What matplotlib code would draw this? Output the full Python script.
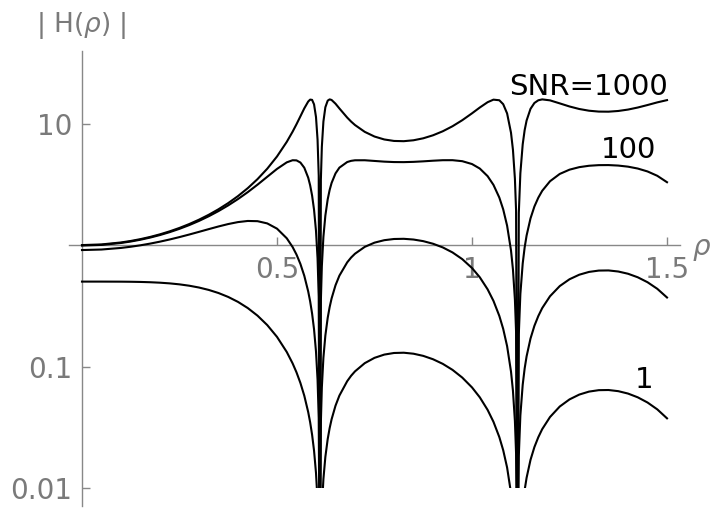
import matplotlib
matplotlib.use("Agg")
import matplotlib.pyplot as plt
from matplotlib.patches import Rectangle
from matplotlib.ticker import FixedLocator, NullLocator, FixedFormatter

# ---- data ----
rho = [0.00, 0.05, 0.10, 0.125, 0.15, 0.175, 0.20, 0.225, 0.25, 0.275,
       0.30, 0.325, 0.35, 0.375, 0.40, 0.425, 0.45, 0.475, 0.50, 0.525,
       0.54, 0.55, 0.56, 0.57, 0.58, 0.585, 0.59, 0.595, 0.60, 0.604,
       0.607, 0.6098, 0.6125, 0.615, 0.619, 0.624, 0.63, 0.635, 0.64, 0.65,
       0.66, 0.68, 0.69, 0.70, 0.725, 0.75, 0.775, 0.80, 0.825, 0.85,
       0.875, 0.90, 0.925, 0.95, 0.975, 1.00, 1.02, 1.04, 1.055, 1.07,
       1.08, 1.09, 1.10, 1.105, 1.11, 1.113, 1.1166, 1.12, 1.124, 1.13,
       1.135, 1.14, 1.15, 1.16, 1.17, 1.18, 1.20, 1.225, 1.25, 1.275,
       1.30, 1.325, 1.35, 1.375, 1.40, 1.425, 1.45, 1.475, 1.50]

h_snr1 = [0.5, 0.49996, 0.49938, 0.49848, 0.49682, 0.49404, 0.48974, 0.48342, 0.47454, 0.46254,
          0.44687, 0.42704, 0.40273, 0.37379, 0.34039, 0.30299, 0.26231, 0.21938, 0.17543, 0.13177,
          0.10619, 0.08953, 0.07327, 0.05747, 0.04217, 0.03474, 0.02745, 0.02030, 0.01331, 0.00782,
          0.00377, 0.001, 0.00350, 0.00673, 0.01183, 0.01804, 0.02528, 0.03112, 0.03679, 0.04758,
          0.05766, 0.07576, 0.08390, 0.09123, 0.10657, 0.11788, 0.12535, 0.12925, 0.12989, 0.12748,
          0.12235, 0.11481, 0.10522, 0.09387, 0.08111, 0.06731, 0.05577, 0.04396, 0.03509, 0.02628,
          0.02047, 0.01474, 0.00909, 0.00631, 0.00356, 0.00193, 0.001, 0.00184, 0.00396, 0.00708,
          0.00965, 0.01216, 0.01705, 0.02173, 0.02619, 0.03052, 0.03839, 0.04686, 0.05363, 0.05876,
          0.06217, 0.06389, 0.06407, 0.06269, 0.05990, 0.05578, 0.05056, 0.04441, 0.03746]

h_snr10 = [0.90909, 0.91831, 0.94646, 0.96808, 0.99504, 1.02767, 1.06626, 1.11113, 1.16244, 1.22011,
           1.28362, 1.35166, 1.42153, 1.48847, 1.54458, 1.57779, 1.57167, 1.50645, 1.36408, 1.13684,
           0.96307, 0.83460, 0.69878, 0.55804, 0.41509, 0.34364, 0.27264, 0.20227, 0.13286, 0.07815,
           0.03769, 0.001, 0.03496, 0.06734, 0.11814, 0.17991, 0.25139, 0.30851, 0.36347, 0.46630,
           0.55977, 0.72019, 0.78869, 0.84821, 0.96583, 1.04606, 1.09599, 1.12107, 1.12510, 1.10975,
           1.07627, 1.02484, 0.95588, 0.86914, 0.76548, 0.64663, 0.54243, 0.43212, 0.34708, 0.26119,
           0.20392, 0.14708, 0.09082, 0.06307, 0.03560, 0.01927, 0.001, 0.01837, 0.03955, 0.07080,
           0.09641, 0.12142, 0.17001, 0.21638, 0.26027, 0.30268, 0.37890, 0.45946, 0.52277, 0.56978,
           0.60070, 0.61618, 0.61782, 0.60540, 0.58023, 0.54260, 0.49420, 0.43635, 0.36990]

h_snr100 = [0.99010, 1.00217, 1.03953, 1.06876, 1.10595, 1.15211, 1.20853, 1.27694, 1.35952, 1.45908,
            1.57935, 1.72518, 1.90292, 2.12093, 2.39015, 2.72376, 3.13813, 3.64474, 4.23044, 4.79174,
            4.98723, 4.97386, 4.77530, 4.32730, 3.58503, 3.10270, 2.55425, 1.95053, 1.30783, 0.77725,
            0.37646, 0.001, 0.34957, 0.66997, 1.16667, 1.74805, 2.37780, 2.83948, 3.24376, 3.88536,
            4.33443, 4.82083, 4.92999, 4.98267, 4.98585, 4.92118, 4.85713, 4.81825, 4.81167, 4.83639,
            4.88442, 4.94308, 4.99025, 4.99262, 4.89896, 4.64025, 4.26070, 3.68915, 3.12750, 2.45985,
            1.96529, 1.44266, 0.90155, 0.62850, 0.35555, 0.19293, 0.001, 0.18394, 0.39538, 0.70447,
            0.95610, 1.19828, 1.65684, 2.07589, 2.45220, 2.79422, 3.34977, 3.84749, 4.17190, 4.37504,
            4.49154, 4.54488, 4.55034, 4.50806, 4.41591, 4.26147, 4.03278, 3.71441, 3.28833]

h_snr1000 = [0.99900, 1.01141, 1.04985, 1.07999, 1.11842, 1.16623, 1.22488, 1.29629, 1.38297, 1.48823,
             1.61660, 1.77421, 1.96962, 2.21505, 2.52857, 2.93709, 3.48553, 4.24766, 5.35590, 7.06223,
             8.56687, 9.86783, 11.46204, 13.33272, 15.17001, 15.74041, 15.65599, 14.37876, 11.30688, 7.36936,
             3.71718, 0.001, 3.45764, 6.43841, 10.37765, 13.61442, 15.42598, 15.80962, 15.62871, 14.56494,
             13.30925, 11.19534, 10.38045, 9.72105, 8.54068, 7.81693, 7.39481, 7.18917, 7.15666, 7.28161,
             7.55902, 8.00275, 8.63453, 9.49950, 10.64967, 12.13459, 13.54709, 14.98095, 15.72430, 15.54658,
             14.42750, 12.10907, 8.39623, 6.06836, 3.51546, 1.92288, 0.001, 1.83377, 3.89879, 6.74222,
             8.82810, 10.59326, 13.20989, 14.76300, 15.53640, 15.80200, 15.51404, 14.65088, 13.81569, 13.17203,
             12.74974, 12.54062, 12.51848, 12.68604, 13.02878, 13.54480, 14.20087, 14.93205, 15.58371]

curve_labels = ["1", "100", "SNR=1000"]
label_rho = [1.4423, 1.4013, 1.2987]
label_h = [0.0665, 5.20, 17.16]

xticks = [0.5, 1.0, 1.5]
xticklabels = ["0.5", "1", "1.5"]
yticks = [0.01, 0.1, 10]
yticklabels = ["0.01", "0.1", "10"]
plot_floor = 0.01   # curves are cut off at the bottom of the plot range

# ---- figure ----
W, H = 710, 508
fig = plt.figure(figsize=(W / 100, H / 100), dpi=100)
ax = fig.add_axes([69 / W, 2 / H, 611 / W, 455 / H])
ax.set_yscale("log")
ax.set_xlim(-0.0333, 1.5333)
ax.set_ylim(10 ** -2.148, 10 ** 1.597)

axis_grey = "#888888"
label_grey = "#7a7a7a"

for name in ("top", "right"):
    ax.spines[name].set_visible(False)
ax.spines["left"].set_position(("data", 0))
ax.spines["bottom"].set_position(("data", 1))
for name in ("left", "bottom"):
    ax.spines[name].set_color(axis_grey)
    ax.spines[name].set_linewidth(1.0)

ax.xaxis.set_major_locator(FixedLocator(xticks))
ax.xaxis.set_major_formatter(FixedFormatter(xticklabels))
ax.yaxis.set_major_locator(FixedLocator(yticks))
ax.yaxis.set_major_formatter(FixedFormatter(yticklabels))
ax.xaxis.set_minor_locator(NullLocator())
ax.yaxis.set_minor_locator(NullLocator())
ax.tick_params(axis="both", direction="in", length=6, width=1.0,
               color=axis_grey, labelcolor=label_grey, labelsize=20)
ax.tick_params(axis="x", pad=8)
ax.tick_params(axis="y", pad=7)

clip_rect = Rectangle((-1, plot_floor), 4, 1e4, transform=ax.transData,
                      facecolor="none", edgecolor="none")
for h in (h_snr1, h_snr10, h_snr100, h_snr1000):
    line, = ax.plot(rho, h, color="black", lw=1.5, zorder=3, solid_joinstyle="round")
    line.set_clip_path(clip_rect)

for t, xr, yh in zip(curve_labels, label_rho, label_h):
    ax.text(xr, yh, t, ha="center", va="baseline", fontsize=21, color="black")

fig.text(81 / W, (H - 32) / H, r"| H($\rho$) |", ha="center", va="baseline",
         fontsize=19, color=label_grey)
fig.text(692 / W, (H - 255) / H, r"$\rho$", ha="left", va="baseline",
         fontsize=20, color=label_grey)

fig.savefig("out.png", dpi=100)
